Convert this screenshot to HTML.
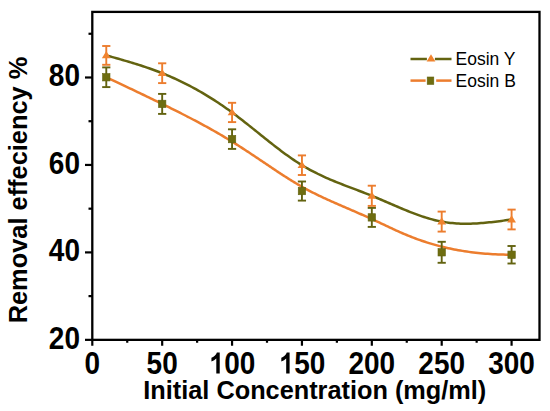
<!DOCTYPE html>
<html><head><meta charset="utf-8"><style>
html,body{margin:0;padding:0;background:#fff;}
body{width:550px;height:411px;overflow:hidden;}
svg{display:block;}
text{font-family:"Liberation Sans", sans-serif;}
</style></head><body>
<svg width="550" height="411" viewBox="0 0 550 411">
<rect x="92.3" y="11.9" width="447.2" height="327.95000000000005" fill="none" stroke="#000" stroke-width="2.3"/>
<line x1="85.0" y1="339.85" x2="92.3" y2="339.85" stroke="#000" stroke-width="2.2"/>
<line x1="85.0" y1="252.40" x2="92.3" y2="252.40" stroke="#000" stroke-width="2.2"/>
<line x1="85.0" y1="164.94" x2="92.3" y2="164.94" stroke="#000" stroke-width="2.2"/>
<line x1="85.0" y1="77.49" x2="92.3" y2="77.49" stroke="#000" stroke-width="2.2"/>
<line x1="88.5" y1="296.12" x2="92.3" y2="296.12" stroke="#000" stroke-width="2.2"/>
<line x1="88.5" y1="208.67" x2="92.3" y2="208.67" stroke="#000" stroke-width="2.2"/>
<line x1="88.5" y1="121.22" x2="92.3" y2="121.22" stroke="#000" stroke-width="2.2"/>
<line x1="88.5" y1="33.76" x2="92.3" y2="33.76" stroke="#000" stroke-width="2.2"/>
<line x1="92.30" y1="339.85" x2="92.30" y2="345.75" stroke="#000" stroke-width="2.2"/>
<line x1="162.18" y1="339.85" x2="162.18" y2="345.75" stroke="#000" stroke-width="2.2"/>
<line x1="232.06" y1="339.85" x2="232.06" y2="345.75" stroke="#000" stroke-width="2.2"/>
<line x1="301.94" y1="339.85" x2="301.94" y2="345.75" stroke="#000" stroke-width="2.2"/>
<line x1="371.82" y1="339.85" x2="371.82" y2="345.75" stroke="#000" stroke-width="2.2"/>
<line x1="441.70" y1="339.85" x2="441.70" y2="345.75" stroke="#000" stroke-width="2.2"/>
<line x1="511.58" y1="339.85" x2="511.58" y2="345.75" stroke="#000" stroke-width="2.2"/>
<line x1="127.24" y1="339.85" x2="127.24" y2="342.75" stroke="#000" stroke-width="2.2"/>
<line x1="197.12" y1="339.85" x2="197.12" y2="342.75" stroke="#000" stroke-width="2.2"/>
<line x1="267.00" y1="339.85" x2="267.00" y2="342.75" stroke="#000" stroke-width="2.2"/>
<line x1="336.88" y1="339.85" x2="336.88" y2="342.75" stroke="#000" stroke-width="2.2"/>
<line x1="406.76" y1="339.85" x2="406.76" y2="342.75" stroke="#000" stroke-width="2.2"/>
<line x1="476.64" y1="339.85" x2="476.64" y2="342.75" stroke="#000" stroke-width="2.2"/>
<text transform="translate(80,348.55) scale(1,1.1)" text-anchor="end" font-family="Liberation Sans, sans-serif" font-weight="bold" font-size="28">20</text>
<text transform="translate(80,261.10) scale(1,1.1)" text-anchor="end" font-family="Liberation Sans, sans-serif" font-weight="bold" font-size="28">40</text>
<text transform="translate(80,173.64) scale(1,1.1)" text-anchor="end" font-family="Liberation Sans, sans-serif" font-weight="bold" font-size="28">60</text>
<text transform="translate(80,86.19) scale(1,1.1)" text-anchor="end" font-family="Liberation Sans, sans-serif" font-weight="bold" font-size="28">80</text>
<text transform="translate(92.30,373.6) scale(1,1.1)" text-anchor="middle" font-family="Liberation Sans, sans-serif" font-weight="bold" font-size="28">0</text>
<text transform="translate(162.18,373.6) scale(1,1.1)" text-anchor="middle" font-family="Liberation Sans, sans-serif" font-weight="bold" font-size="28">50</text>
<path transform="translate(208.70,373.6) scale(0.013672,-0.015039)" d="M806 0H556V1010Q420 882 200 812V1058Q316 1096 440 1188Q560 1280 600 1409H806Z" fill="#000"/>
<text transform="translate(224.27,373.6) scale(1,1.1)" font-family="Liberation Sans, sans-serif" font-weight="bold" font-size="28">00</text>
<path transform="translate(278.58,373.6) scale(0.013672,-0.015039)" d="M806 0H556V1010Q420 882 200 812V1058Q316 1096 440 1188Q560 1280 600 1409H806Z" fill="#000"/>
<text transform="translate(294.15,373.6) scale(1,1.1)" font-family="Liberation Sans, sans-serif" font-weight="bold" font-size="28">50</text>
<text transform="translate(371.82,373.6) scale(1,1.1)" text-anchor="middle" font-family="Liberation Sans, sans-serif" font-weight="bold" font-size="28">200</text>
<text transform="translate(441.70,373.6) scale(1,1.1)" text-anchor="middle" font-family="Liberation Sans, sans-serif" font-weight="bold" font-size="28">250</text>
<text transform="translate(511.58,373.6) scale(1,1.1)" text-anchor="middle" font-family="Liberation Sans, sans-serif" font-weight="bold" font-size="28">300</text>
<text x="314.8" y="398.6" text-anchor="middle" font-family="Liberation Sans, sans-serif" font-weight="bold" font-size="25.3">Initial Concentration (mg/ml)</text>
<text transform="translate(26.8,190) rotate(-90)" text-anchor="middle" font-family="Liberation Sans, sans-serif" font-weight="bold" font-size="25.4">Removal effeciency %</text>
<path d="M106.28,55.40 L108.31,55.97 L110.35,56.53 L112.39,57.10 L114.42,57.67 L116.46,58.24 L118.50,58.82 L120.53,59.40 L122.57,59.99 L124.61,60.58 L126.64,61.17 L128.68,61.77 L130.72,62.38 L132.75,63.00 L134.79,63.63 L136.83,64.26 L138.86,64.91 L140.90,65.56 L142.94,66.23 L144.97,66.91 L147.01,67.60 L149.05,68.30 L151.08,69.02 L153.12,69.75 L155.16,70.50 L157.19,71.26 L159.23,72.04 L161.27,72.84 L163.30,73.65 L165.34,74.48 L167.38,75.33 L169.41,76.20 L171.45,77.09 L173.49,77.99 L175.52,78.92 L177.56,79.86 L179.60,80.82 L181.63,81.80 L183.67,82.80 L185.71,83.82 L187.74,84.86 L189.78,85.92 L191.82,86.99 L193.85,88.09 L195.89,89.21 L197.93,90.34 L199.96,91.50 L202.00,92.67 L204.04,93.87 L206.07,95.09 L208.11,96.33 L210.15,97.58 L212.18,98.86 L214.22,100.16 L216.26,101.48 L218.29,102.82 L220.33,104.19 L222.37,105.57 L224.40,106.97 L226.44,108.40 L228.48,109.85 L230.51,111.32 L232.55,112.81 L234.59,114.33 L236.63,115.86 L238.66,117.41 L240.70,118.98 L242.74,120.56 L244.77,122.15 L246.81,123.76 L248.85,125.38 L250.88,127.00 L252.92,128.63 L254.96,130.27 L256.99,131.90 L259.03,133.54 L261.07,135.18 L263.10,136.81 L265.14,138.44 L267.18,140.07 L269.21,141.68 L271.25,143.29 L273.29,144.89 L275.32,146.47 L277.36,148.04 L279.40,149.59 L281.43,151.13 L283.47,152.64 L285.51,154.14 L287.54,155.61 L289.58,157.05 L291.62,158.47 L293.65,159.87 L295.69,161.23 L297.73,162.56 L299.76,163.85 L301.80,165.11 L303.84,166.34 L305.87,167.53 L307.91,168.68 L309.95,169.81 L311.98,170.90 L314.02,171.96 L316.06,172.99 L318.09,174.00 L320.13,174.98 L322.17,175.94 L324.20,176.87 L326.24,177.79 L328.28,178.68 L330.31,179.56 L332.35,180.42 L334.39,181.26 L336.42,182.09 L338.46,182.91 L340.50,183.71 L342.53,184.51 L344.57,185.30 L346.61,186.08 L348.64,186.86 L350.68,187.63 L352.72,188.41 L354.75,189.18 L356.79,189.95 L358.83,190.72 L360.86,191.50 L362.90,192.28 L364.94,193.07 L366.97,193.86 L369.01,194.67 L371.05,195.49 L373.08,196.32 L375.12,197.16 L377.16,198.01 L379.19,198.87 L381.23,199.73 L383.27,200.61 L385.30,201.48 L387.34,202.36 L389.38,203.25 L391.41,204.13 L393.45,205.01 L395.49,205.88 L397.52,206.76 L399.56,207.62 L401.60,208.48 L403.63,209.33 L405.67,210.17 L407.71,210.99 L409.74,211.80 L411.78,212.60 L413.82,213.38 L415.85,214.14 L417.89,214.89 L419.93,215.61 L421.97,216.31 L424.00,216.98 L426.04,217.63 L428.08,218.25 L430.11,218.85 L432.15,219.41 L434.19,219.94 L436.22,220.44 L438.26,220.90 L440.30,221.33 L442.33,221.72 L444.37,222.07 L446.41,222.38 L448.44,222.66 L450.48,222.90 L452.52,223.11 L454.55,223.29 L456.59,223.43 L458.63,223.54 L460.66,223.63 L462.70,223.68 L464.74,223.71 L466.77,223.72 L468.81,223.70 L470.85,223.65 L472.88,223.58 L474.92,223.49 L476.96,223.38 L478.99,223.25 L481.03,223.11 L483.07,222.94 L485.10,222.76 L487.14,222.57 L489.18,222.36 L491.21,222.14 L493.25,221.91 L495.29,221.67 L497.32,221.41 L499.36,221.16 L501.40,220.89 L503.43,220.62 L505.47,220.34 L507.51,220.06 L509.54,219.78 L511.58,219.50" fill="none" stroke="#636310" stroke-width="2.5"/>
<path d="M106.28,77.25 L108.51,78.30 L110.72,79.34 L112.91,80.37 L115.07,81.39 L117.22,82.40 L119.34,83.40 L121.44,84.39 L123.52,85.37 L125.58,86.35 L127.62,87.31 L129.64,88.27 L131.64,89.22 L133.62,90.16 L135.58,91.09 L137.52,92.02 L139.44,92.94 L141.34,93.85 L143.23,94.75 L145.09,95.64 L146.94,96.53 L148.76,97.41 L150.57,98.28 L152.37,99.15 L154.14,100.01 L155.90,100.86 L157.64,101.71 L159.36,102.55 L161.07,103.38 L162.76,104.21 L164.43,105.03 L166.09,105.85 L167.73,106.66 L169.36,107.47 L170.97,108.27 L172.57,109.06 L174.15,109.85 L175.72,110.64 L177.27,111.42 L178.81,112.20 L180.33,112.97 L181.84,113.74 L183.34,114.50 L184.82,115.26 L186.29,116.01 L187.75,116.77 L189.19,117.51 L190.63,118.26 L192.05,119.00 L193.45,119.74 L194.85,120.47 L196.23,121.20 L197.61,121.93 L198.97,122.66 L200.32,123.38 L201.66,124.10 L202.99,124.82 L204.31,125.54 L205.62,126.26 L206.91,126.97 L208.20,127.68 L209.48,128.39 L210.75,129.10 L212.02,129.81 L213.27,130.52 L214.51,131.22 L215.75,131.93 L216.98,132.63 L218.20,133.33 L219.41,134.04 L220.61,134.74 L221.81,135.44 L223.00,136.15 L224.18,136.85 L225.36,137.55 L226.53,138.26 L227.69,138.96 L228.85,139.66 L230.00,140.37 L231.15,141.07 L232.29,141.78 L233.42,142.48 L234.55,143.19 L235.67,143.90 L236.79,144.60 L237.90,145.31 L239.01,146.01 L240.11,146.72 L241.20,147.42 L242.29,148.12 L243.38,148.83 L244.46,149.53 L245.54,150.23 L246.61,150.93 L247.67,151.63 L248.73,152.33 L249.79,153.03 L250.84,153.72 L251.89,154.42 L252.93,155.11 L253.97,155.81 L255.01,156.50 L256.04,157.19 L257.07,157.88 L258.09,158.57 L259.11,159.25 L260.13,159.93 L261.14,160.62 L262.15,161.29 L263.15,161.97 L264.15,162.65 L265.15,163.32 L266.15,163.99 L267.14,164.66 L268.13,165.33 L269.12,165.99 L270.10,166.65 L271.08,167.31 L272.06,167.96 L273.03,168.62 L274.00,169.27 L274.97,169.91 L275.94,170.56 L276.91,171.20 L277.87,171.84 L278.83,172.47 L279.79,173.10 L280.75,173.73 L281.70,174.35 L282.66,174.97 L283.61,175.59 L284.56,176.20 L285.51,176.81 L286.45,177.42 L287.40,178.02 L288.34,178.61 L289.29,179.21 L290.23,179.80 L291.17,180.38 L292.11,180.96 L293.05,181.54 L293.99,182.11 L294.92,182.67 L295.86,183.24 L296.80,183.79 L297.73,184.35 L298.67,184.89 L299.60,185.44 L300.54,185.97 L301.47,186.51 L302.41,187.03 L303.34,187.55 L304.28,188.07 L305.21,188.58 L306.15,189.09 L307.08,189.59 L308.02,190.09 L308.96,190.59 L309.89,191.08 L310.83,191.56 L311.77,192.04 L312.71,192.52 L313.65,193.00 L314.59,193.47 L315.54,193.94 L316.48,194.40 L317.43,194.86 L318.37,195.32 L319.32,195.78 L320.27,196.23 L321.22,196.68 L322.18,197.13 L323.13,197.58 L324.09,198.03 L325.05,198.47 L326.01,198.91 L326.97,199.35 L327.94,199.79 L328.91,200.23 L329.88,200.66 L330.85,201.10 L331.82,201.54 L332.80,201.97 L333.78,202.40 L334.76,202.84 L335.75,203.27 L336.74,203.71 L337.73,204.14 L338.73,204.57 L339.73,205.01 L340.73,205.44 L341.73,205.88 L342.74,206.31 L343.75,206.75 L344.77,207.19 L345.79,207.63 L346.81,208.07 L347.84,208.51 L348.87,208.96 L349.91,209.41 L350.95,209.85 L351.99,210.31 L353.04,210.76 L354.09,211.21 L355.15,211.67 L356.21,212.13 L357.27,212.60 L358.34,213.07 L359.42,213.54 L360.50,214.01 L361.59,214.49 L362.68,214.97 L363.77,215.45 L364.87,215.94 L365.98,216.43 L367.09,216.93 L368.21,217.43 L369.33,217.94 L370.46,218.45 L371.59,218.96 L372.73,219.48 L373.88,220.01 L375.03,220.54 L376.19,221.08 L377.35,221.62 L378.52,222.17 L379.70,222.72 L380.88,223.28 L382.07,223.84 L383.27,224.41 L384.48,224.98 L385.70,225.56 L386.92,226.14 L388.15,226.72 L389.40,227.30 L390.65,227.89 L391.92,228.48 L393.20,229.07 L394.48,229.66 L395.78,230.26 L397.10,230.85 L398.42,231.44 L399.76,232.04 L401.11,232.63 L402.48,233.23 L403.86,233.82 L405.26,234.41 L406.67,235.00 L408.09,235.59 L409.54,236.17 L411.00,236.75 L412.47,237.33 L413.97,237.91 L415.48,238.48 L417.01,239.05 L418.56,239.61 L420.13,240.17 L421.72,240.72 L423.32,241.27 L424.95,241.81 L426.60,242.35 L428.27,242.88 L429.96,243.40 L431.68,243.91 L433.41,244.42 L435.17,244.92 L436.95,245.41 L438.76,245.89 L440.59,246.37 L442.44,246.83 L444.32,247.29 L446.23,247.73 L448.16,248.17 L450.12,248.59 L452.10,249.00 L454.11,249.41 L456.15,249.80 L458.22,250.17 L460.31,250.54 L462.44,250.89 L464.59,251.23 L466.77,251.56 L468.98,251.87 L471.22,252.17 L473.50,252.45 L475.80,252.72 L478.14,252.98 L480.51,253.22 L482.91,253.44 L485.34,253.65 L487.81,253.84 L490.31,254.01 L492.84,254.17 L495.41,254.30 L498.02,254.43 L500.66,254.53 L503.33,254.61 L506.05,254.68 L508.79,254.72 L511.58,254.75" fill="none" stroke="#ec7d2e" stroke-width="2.5"/>
<line x1="106.28" y1="46" x2="106.28" y2="64.8" stroke="#ec7d2e" stroke-width="1.9"/><line x1="102.18" y1="46" x2="110.38" y2="46" stroke="#ec7d2e" stroke-width="1.9"/><line x1="102.18" y1="64.8" x2="110.38" y2="64.8" stroke="#ec7d2e" stroke-width="1.9"/>
<path d="M106.28,51.08 L110.68,58.28 L101.88,58.28 Z" fill="#f0832f"/>
<line x1="162.18" y1="63.3" x2="162.18" y2="83.1" stroke="#ec7d2e" stroke-width="1.9"/><line x1="158.08" y1="63.3" x2="166.28" y2="63.3" stroke="#ec7d2e" stroke-width="1.9"/><line x1="158.08" y1="83.1" x2="166.28" y2="83.1" stroke="#ec7d2e" stroke-width="1.9"/>
<path d="M162.18,68.88 L166.58,76.08 L157.78,76.08 Z" fill="#f0832f"/>
<line x1="232.06" y1="102.8" x2="232.06" y2="122.1" stroke="#ec7d2e" stroke-width="1.9"/><line x1="227.96" y1="102.8" x2="236.16" y2="102.8" stroke="#ec7d2e" stroke-width="1.9"/><line x1="227.96" y1="122.1" x2="236.16" y2="122.1" stroke="#ec7d2e" stroke-width="1.9"/>
<path d="M232.06,108.13 L236.46,115.33 L227.66,115.33 Z" fill="#f0832f"/>
<line x1="301.94" y1="155.4" x2="301.94" y2="175" stroke="#ec7d2e" stroke-width="1.9"/><line x1="297.84" y1="155.4" x2="306.04" y2="155.4" stroke="#ec7d2e" stroke-width="1.9"/><line x1="297.84" y1="175" x2="306.04" y2="175" stroke="#ec7d2e" stroke-width="1.9"/>
<path d="M301.94,160.88 L306.34,168.08 L297.54,168.08 Z" fill="#f0832f"/>
<line x1="371.82" y1="185.7" x2="371.82" y2="205.9" stroke="#ec7d2e" stroke-width="1.9"/><line x1="367.72" y1="185.7" x2="375.92" y2="185.7" stroke="#ec7d2e" stroke-width="1.9"/><line x1="367.72" y1="205.9" x2="375.92" y2="205.9" stroke="#ec7d2e" stroke-width="1.9"/>
<path d="M371.82,191.48 L376.22,198.68 L367.42,198.68 Z" fill="#f0832f"/>
<line x1="441.70" y1="211.6" x2="441.70" y2="231.6" stroke="#ec7d2e" stroke-width="1.9"/><line x1="437.60" y1="211.6" x2="445.80" y2="211.6" stroke="#ec7d2e" stroke-width="1.9"/><line x1="437.60" y1="231.6" x2="445.80" y2="231.6" stroke="#ec7d2e" stroke-width="1.9"/>
<path d="M441.70,217.28 L446.10,224.48 L437.30,224.48 Z" fill="#f0832f"/>
<line x1="511.58" y1="209.6" x2="511.58" y2="229.4" stroke="#ec7d2e" stroke-width="1.9"/><line x1="507.48" y1="209.6" x2="515.68" y2="209.6" stroke="#ec7d2e" stroke-width="1.9"/><line x1="507.48" y1="229.4" x2="515.68" y2="229.4" stroke="#ec7d2e" stroke-width="1.9"/>
<path d="M511.58,215.18 L515.98,222.38 L507.18,222.38 Z" fill="#f0832f"/>
<line x1="106.28" y1="67.4" x2="106.28" y2="87.1" stroke="#636310" stroke-width="1.9"/><line x1="102.18" y1="67.4" x2="110.38" y2="67.4" stroke="#636310" stroke-width="1.9"/><line x1="102.18" y1="87.1" x2="110.38" y2="87.1" stroke="#636310" stroke-width="1.9"/>
<rect x="102.58" y="73.55" width="7.4" height="7.4" fill="#6e6d10" stroke="#636310" stroke-width="0.6"/>
<line x1="162.18" y1="93.9" x2="162.18" y2="113.9" stroke="#636310" stroke-width="1.9"/><line x1="158.08" y1="93.9" x2="166.28" y2="93.9" stroke="#636310" stroke-width="1.9"/><line x1="158.08" y1="113.9" x2="166.28" y2="113.9" stroke="#636310" stroke-width="1.9"/>
<rect x="158.48" y="100.20" width="7.4" height="7.4" fill="#6e6d10" stroke="#636310" stroke-width="0.6"/>
<line x1="232.06" y1="129.3" x2="232.06" y2="148.9" stroke="#636310" stroke-width="1.9"/><line x1="227.96" y1="129.3" x2="236.16" y2="129.3" stroke="#636310" stroke-width="1.9"/><line x1="227.96" y1="148.9" x2="236.16" y2="148.9" stroke="#636310" stroke-width="1.9"/>
<rect x="228.36" y="135.40" width="7.4" height="7.4" fill="#6e6d10" stroke="#636310" stroke-width="0.6"/>
<line x1="301.94" y1="181.5" x2="301.94" y2="200.6" stroke="#636310" stroke-width="1.9"/><line x1="297.84" y1="181.5" x2="306.04" y2="181.5" stroke="#636310" stroke-width="1.9"/><line x1="297.84" y1="200.6" x2="306.04" y2="200.6" stroke="#636310" stroke-width="1.9"/>
<rect x="298.24" y="187.35" width="7.4" height="7.4" fill="#6e6d10" stroke="#636310" stroke-width="0.6"/>
<line x1="371.82" y1="207.9" x2="371.82" y2="226.9" stroke="#636310" stroke-width="1.9"/><line x1="367.72" y1="207.9" x2="375.92" y2="207.9" stroke="#636310" stroke-width="1.9"/><line x1="367.72" y1="226.9" x2="375.92" y2="226.9" stroke="#636310" stroke-width="1.9"/>
<rect x="368.12" y="213.70" width="7.4" height="7.4" fill="#6e6d10" stroke="#636310" stroke-width="0.6"/>
<line x1="441.70" y1="241.8" x2="441.70" y2="262.8" stroke="#636310" stroke-width="1.9"/><line x1="437.60" y1="241.8" x2="445.80" y2="241.8" stroke="#636310" stroke-width="1.9"/><line x1="437.60" y1="262.8" x2="445.80" y2="262.8" stroke="#636310" stroke-width="1.9"/>
<rect x="438.00" y="248.60" width="7.4" height="7.4" fill="#6e6d10" stroke="#636310" stroke-width="0.6"/>
<line x1="511.58" y1="246" x2="511.58" y2="263.5" stroke="#636310" stroke-width="1.9"/><line x1="507.48" y1="246" x2="515.68" y2="246" stroke="#636310" stroke-width="1.9"/><line x1="507.48" y1="263.5" x2="515.68" y2="263.5" stroke="#636310" stroke-width="1.9"/>
<rect x="507.88" y="251.05" width="7.4" height="7.4" fill="#6e6d10" stroke="#636310" stroke-width="0.6"/>
<line x1="410.5" y1="59" x2="426.9" y2="59" stroke="#636310" stroke-width="2.5"/>
<line x1="434.9" y1="59" x2="451.5" y2="59" stroke="#636310" stroke-width="2.5"/>
<path d="M431.00,54.18 L435.40,61.38 L426.60,61.38 Z" fill="#f0832f"/>
<line x1="410.5" y1="80.6" x2="425.6" y2="80.6" stroke="#ec7d2e" stroke-width="2.5"/>
<line x1="436.2" y1="80.6" x2="451.5" y2="80.6" stroke="#ec7d2e" stroke-width="2.5"/>
<rect x="427.2" y="77.0" width="6.6" height="7.4" fill="#6e6d10" stroke="#636310" stroke-width="0.6"/>
<text x="455.5" y="65" font-family="Liberation Sans, sans-serif" font-size="17.5">Eosin Y</text>
<text x="455.5" y="86.6" font-family="Liberation Sans, sans-serif" font-size="17.5">Eosin B</text>
</svg>
</body></html>
